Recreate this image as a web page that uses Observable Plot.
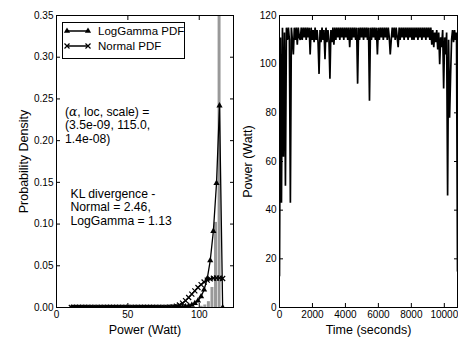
<!DOCTYPE html>
<html><head><meta charset="utf-8">
<script src="https://cdn.jsdelivr.net/npm/d3@7"></script>
<script src="https://cdn.jsdelivr.net/npm/@observablehq/plot@0.6"></script>
<style>
html,body{margin:0;padding:0;background:#fff;}
#wrap{position:relative;width:458px;height:339px;overflow:hidden;background:#fff;}
#left{position:absolute;left:0;top:0;}
#right{position:absolute;left:237px;top:0;}
#legend{position:absolute;left:61px;top:21px;}
</style></head><body>
<div id="wrap"><div id="left"></div><div id="right"></div><div id="legend"></div></div>
<script>
// ---------- Left panel data: PDFs evaluated on a grid of power values ----------
const pdfX = [10.4,12.6,14.7,16.9,19.1,21.2,23.4,25.5,27.7,29.9,32.0,34.2,36.4,38.5,40.7,42.8,45.0,47.2,49.3,51.5,53.7,55.8,58.0,60.2,62.3,64.5,66.6,68.8,71.0,73.1,75.3,77.5,79.6,81.8,84.0,86.1,88.3,90.4,92.6,94.8,96.9,99.1,101.3,103.4,105.6,107.7,109.9,112.1,114.2,116.4];
const logGammaPdf = [0,0,0,0,0,0,0,0,0,0,0,0,0,0,0,0,0,0,0,0,0,0,0,0,0,0,0,0,0,0,0,0,0,0,0.0002,0.0004,0.0007,0.0011,0.0019,0.0030,0.0050,0.0081,0.0131,0.0213,0.0346,0.0563,0.0915,0.149,0.242,0];
const normalPdf = [0,0,0,0,0,0,0,0,0,0,0,0,0,0,0,0,0,0,0,0,0,0,0,0,0,0,0,0,0,0,0.0001,0.0002,0.0004,0.0008,0.0016,0.0030,0.0052,0.0082,0.0120,0.0160,0.0200,0.0240,0.0275,0.0305,0.0328,0.0343,0.0351,0.0353,0.0352,0.0348];
// histogram of measured power (density)
const histStart = [100.5,103,105.5,108,110.5,113];
const histEnd = [103,105.5,108,110.5,113,115.5];
const histDensity = [0.0015,0.003,0.007,0.024,0.102,0.6];
const leftYTicks = [0,0.05,0.10,0.15,0.20,0.25,0.30,0.35];
const leftXTicks = [0,50,100];
const paramsText = "(α, loc, scale) =\n(3.5e-09, 115.0,\n1.4e-08)";
const klText = "KL divergence -\nNormal = 2.46,\nLogGamma = 1.13";
const legendLabels = ["LogGamma PDF","Normal PDF"];

// ---------- Right panel data: power trace over time ----------
const timeSec = [0,60,120,180,240,300,360,420,480,540,600,660,720,780,840,900,960,1020,1080,1140,1200,1260,1320,1380,1440,1500,1560,1620,1680,1740,1800,1860,1920,1980,2040,2100,2160,2220,2280,2340,2400,2460,2520,2580,2640,2700,2760,2820,2880,2940,3000,3060,3120,3180,3240,3300,3360,3420,3480,3540,3600,3660,3720,3780,3840,3900,3960,4020,4080,4140,4200,4260,4320,4380,4440,4500,4560,4620,4680,4740,4800,4860,4920,4980,5040,5100,5160,5220,5280,5340,5400,5460,5520,5580,5640,5700,5760,5820,5880,5940,6000,6060,6120,6180,6240,6300,6360,6420,6480,6540,6600,6660,6720,6780,6840,6900,6960,7020,7080,7140,7200,7260,7320,7380,7440,7500,7560,7620,7680,7740,7800,7860,7920,7980,8040,8100,8160,8220,8280,8340,8400,8460,8520,8580,8640,8700,8760,8820,8880,8940,9000,9060,9120,9180,9240,9300,9360,9420,9480,9540,9600,9660,9720,9780,9840,9900,9960,10020,10080,10140,10200,10260,10320,10380,10440,10500,10560,10620,10680,10740,10800];
const powerWatt = [
  13,111,43,115,62,113,50,115,110,115,110,43,115,110,
  104,115,110,115,108,115,111,110,115,110,115,111,115,110,115,111,
  115,104,115,110,114,109,115,110,114,109,96,114,109,115,110,114,
  102,115,109,114,110,94,114,109,115,108,115,110,115,111,115,110,
  115,111,115,110,115,111,115,110,115,107,115,110,115,111,115,110,
  115,92,115,110,115,111,115,110,115,111,115,110,115,85,115,110,
  115,111,115,110,115,104,115,110,115,111,115,110,115,111,115,110,
  115,111,104,110,115,111,115,110,115,111,107,115,110,115,111,115,
  110,115,111,115,110,115,111,115,110,115,110,115,111,115,110,115,
  111,115,110,115,111,115,110,115,111,115,110,115,108,114,107,113,
  109,114,106,113,100,111,107,114,90,111,104,113,46,110,78,95,
  110,114,109,114,110,113,15];
const rightXTicks = [0,2000,4000,6000,8000,10000];
const rightYTicks = [0,20,40,60,80,100,120];

// ---------- Build tables ----------
const pdfRows = pdfX.map((x, i) => ({x, lg: logGammaPdf[i], nm: normalPdf[i]}));
const histRows = histStart.map((x1, i) => ({x1, x2: histEnd[i], y: histDensity[i]}));
const traceRows = timeSec.map((t, i) => ({t, p: powerWatt[i]})).filter(d => d.p !== undefined);

const font = '"Liberation Sans", Arial, Helvetica, sans-serif';
const baseStyle = {fontFamily: font, fontSize: "10px", color: "black", background: "white", overflow: "visible"};

const left = Plot.plot({
  width: 237, height: 339,
  marginLeft: 56, marginRight: 4, marginTop: 15, marginBottom: 32,
  style: baseStyle,
  x: {domain: [0, 124]},
  y: {domain: [0, 0.35]},
  marks: [
    Plot.rectY(histRows, {x1: "x1", x2: "x2", y: "y", fill: "#999", insetLeft: 0.3, insetRight: 0.3, clip: true}),
    Plot.line(pdfRows, {x: "x", y: "nm", stroke: "black", strokeWidth: 1.3, clip: true}),
    Plot.line(pdfRows, {x: "x", y: "lg", stroke: "black", strokeWidth: 1.3, clip: true}),
    Plot.dot(pdfRows, {x: "x", y: "nm", symbol: "times", r: 2.4, stroke: "black", strokeWidth: 1.2, clip: true}),
    Plot.dot(pdfRows, {x: "x", y: "lg", symbol: "triangle", r: 2.3, fill: "black", stroke: "none", clip: true}),
    Plot.frame({stroke: "black"}),
    Plot.axisX({anchor: "bottom", ticks: leftXTicks, tickSize: -4, tickPadding: 7, tickFormat: "d", label: null}),
    Plot.axisX({anchor: "top", ticks: leftXTicks, tickSize: -4, fill: "none", label: null}),
    Plot.axisY({anchor: "left", ticks: leftYTicks, tickSize: -4, tickPadding: 7, tickFormat: ".2f", label: null}),
    Plot.axisY({anchor: "right", ticks: leftYTicks, tickSize: -4, fill: "none", label: null}),
    Plot.text(["Power (Watt)"], {text: d => d, frameAnchor: "bottom", dy: 22, fontSize: 12.5, lineAnchor: "middle"}),
    Plot.text(["Probability Density"], {text: d => d, frameAnchor: "left", dx: -33, rotate: -90, fontSize: 12.5, lineAnchor: "middle", textAnchor: "middle"}),
    Plot.text([paramsText], {text: d => d, frameAnchor: "top-left", dx: 8.5, dy: 91, textAnchor: "start", lineAnchor: "top", fontSize: 12.2, lineHeight: 1.1}),
    Plot.text([klText], {text: d => d, frameAnchor: "top-left", dx: 14, dy: 173, textAnchor: "start", lineAnchor: "top", fontSize: 12.2, lineHeight: 1.1})
  ]
});
document.getElementById("left").appendChild(left);

// italic alpha like the math text in the original
left.querySelectorAll("tspan, text").forEach(el => {
  if (el.childNodes.length === 1 && el.firstChild.nodeType === 3 && el.textContent.startsWith("(α")) {
    const rest = el.textContent.slice(2);
    el.textContent = "(";
    const a = document.createElementNS("http://www.w3.org/2000/svg", "tspan");
    a.setAttribute("font-style", "italic");
    a.setAttribute("font-family", '"DejaVu Serif", serif');
    a.textContent = "α";
    el.appendChild(a);
    el.appendChild(document.createTextNode(rest));
  }
});

const right = Plot.plot({
  width: 221, height: 339,
  marginLeft: 42, marginRight: 1, marginTop: 15, marginBottom: 32,
  style: baseStyle,
  x: {domain: [0, 10800]},
  y: {domain: [0, 120]},
  marks: [
    Plot.line(traceRows, {x: "t", y: "p", stroke: "black", strokeWidth: 1.7, strokeLinejoin: "miter", strokeMiterlimit: 1, clip: true}),
    Plot.frame({stroke: "black"}),
    Plot.axisX({anchor: "bottom", ticks: rightXTicks, tickSize: -4, tickPadding: 7, tickFormat: "d", label: null}),
    Plot.axisX({anchor: "top", ticks: rightXTicks, tickSize: -4, fill: "none", label: null}),
    Plot.axisY({anchor: "left", ticks: rightYTicks, tickSize: -4, tickPadding: 7, tickFormat: "d", label: null}),
    Plot.axisY({anchor: "right", ticks: rightYTicks, tickSize: -4, fill: "none", label: null}),
    Plot.text(["Time (seconds)"], {text: d => d, frameAnchor: "bottom", dy: 22, fontSize: 12.5, lineAnchor: "middle"}),
    Plot.text(["Power (Watt)"], {text: d => d, frameAnchor: "left", dx: -31.5, rotate: -90, fontSize: 12.5, lineAnchor: "middle", textAnchor: "middle"})
  ]
});
document.getElementById("right").appendChild(right);

// ---------- Legend box (inside the left axes) ----------
const lg = d3.select("#legend").append("svg").attr("width", 126).attr("height", 40)
  .style("font-family", font).style("font-size", "11.5px");
lg.append("rect").attr("x", 1.5).attr("y", 1.5).attr("width", 122).attr("height", 36)
  .attr("fill", "white").attr("stroke", "black").attr("stroke-width", 1);
const rowsY = [10, 25];
const tri = d3.symbol(d3.symbolTriangle, Math.PI * 2.3 * 2.3);
const cross = d3.symbol(d3.symbolTimes, Math.PI * 2.4 * 2.4);
legendLabels.forEach((label, i) => {
  const y = rowsY[i];
  lg.append("line").attr("x1", 6).attr("x2", 27).attr("y1", y).attr("y2", y)
    .attr("stroke", "black").attr("stroke-width", 1.5);
  [6, 27].forEach(x => {
    if (i === 0) lg.append("path").attr("d", tri()).attr("transform", `translate(${x},${y})`).attr("fill", "black");
    else lg.append("path").attr("d", cross()).attr("transform", `translate(${x},${y})`).attr("fill", "none").attr("stroke", "black").attr("stroke-width", 1.2);
  });
  lg.append("text").attr("x", 37).attr("y", y).attr("dy", "0.35em").text(label);
});
</script>
</body></html>
